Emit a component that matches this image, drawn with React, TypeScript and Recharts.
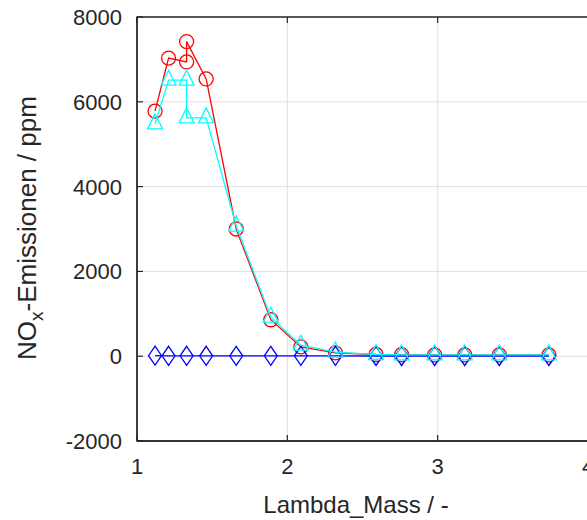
import React from "react";
import {
  ScatterChart,
  Scatter,
  XAxis,
  YAxis,
  CartesianGrid,
  ReferenceArea,
} from "recharts";

// values
const lambdaRed = [1.12, 1.21, 1.33, 1.33, 1.46, 1.66, 1.89, 2.09, 2.32, 2.59, 2.76, 2.98, 3.18, 3.41, 3.74];
const noxRed = [5780, 7030, 6940, 7420, 6540, 3000, 860, 220, 80, 40, 35, 30, 30, 30, 30];

const lambdaCyan = [1.12, 1.21, 1.33, 1.33, 1.46, 1.66, 1.89, 2.09, 2.32, 2.59, 2.76, 2.98, 3.18, 3.41, 3.74];
const noxCyan = [5480, 6510, 6510, 5620, 5620, 3070, 920, 260, 95, 40, 30, 30, 30, 30, 30];

const lambdaBlue = [1.12, 1.21, 1.33, 1.46, 1.66, 1.89, 2.09, 2.32, 2.59, 2.76, 2.98, 3.18, 3.41, 3.74];
const noxBlue = [12, 10, 10, 10, 8, 8, 8, 8, 5, 5, 5, 5, 5, 5];

const xTicks = [1, 2, 3, 4];
const yTicks = [-2000, 0, 2000, 4000, 6000, 8000];

const toPoints = (xs: number[], ys: number[]) => xs.map((x, i) => ({ x, y: ys[i] }));

// chart is pinned to the page's top-left corner, so these are page pixels
const W = 600;
const H = 520;
const M = { top: 17, right: 12, left: 0, bottom: 0 };
const Y_W = 137;
const X_H = 79;
const PLOT_LEFT = M.left + Y_W;
const PLOT_TOP = M.top;
const PLOT_BOTTOM = H - M.bottom - X_H;
const AXIS = "#262626";
const FONT = "'Liberation Sans', Arial, sans-serif";

const XTick = (props: any) => {
  const { x, payload } = props;
  return (
    <g>
      <line x1={x} x2={x} y1={PLOT_BOTTOM} y2={PLOT_BOTTOM - 6} stroke={AXIS} strokeWidth={1.2} />
      <line x1={x} x2={x} y1={PLOT_TOP} y2={PLOT_TOP + 6} stroke={AXIS} strokeWidth={1.2} />
      <text x={x} y={PLOT_BOTTOM + 33} textAnchor="middle" fontSize={22} fill={AXIS} fontFamily={FONT}>
        {payload.value}
      </text>
    </g>
  );
};

const YTick = (props: any) => {
  const { y, payload } = props;
  return (
    <g>
      <line x1={PLOT_LEFT} x2={PLOT_LEFT + 6} y1={y} y2={y} stroke={AXIS} strokeWidth={1.2} />
      <text x={PLOT_LEFT - 15} y={y + 8} textAnchor="end" fontSize={22} fill={AXIS} fontFamily={FONT}>
        {payload.value}
      </text>
    </g>
  );
};

const XLabel = () => (
  <text x={356} y={513} textAnchor="middle" fontSize={24} fill={AXIS} fontFamily={FONT}>
    Lambda_Mass / -
  </text>
);

const YLabel = () => (
  <text
    transform="translate(36, 228) rotate(-90)"
    textAnchor="middle"
    fontSize={26}
    fill={AXIS}
    fontFamily={FONT}
  >
    NO
    <tspan dy={7} fontSize={19}>x</tspan>
    <tspan dy={-7}>-Emissionen / ppm</tspan>
  </text>
);

const circle = (props: any) => (
  <circle cx={props.cx} cy={props.cy} r={7} fill="none" stroke="#ff0000" strokeWidth={1.3} />
);

const triangle = (props: any) => {
  const { cx, cy } = props;
  return (
    <polygon
      points={`${cx},${cy - 10} ${cx - 7.5},${cy + 5} ${cx + 7.5},${cy + 5}`}
      fill="none"
      stroke="#00ffff"
      strokeWidth={1.3}
    />
  );
};

const diamond = (props: any) => {
  const { cx, cy } = props;
  return (
    <polygon
      points={`${cx},${cy - 9.5} ${cx + 6.5},${cy} ${cx},${cy + 9.5} ${cx - 6.5},${cy}`}
      fill="none"
      stroke="#0000ff"
      strokeWidth={1.3}
    />
  );
};

export default function App() {
  return (
    <div
      style={{
        position: "absolute",
        left: 0,
        top: 0,
        width: 587,
        height: 520,
        overflow: "hidden",
        background: "#fff",
      }}
    >
      <ScatterChart width={W} height={H} margin={M}>
        <CartesianGrid stroke="#e0e0e0" strokeWidth={1} />
        <XAxis
          dataKey="x"
          type="number"
          domain={[1, 4]}
          ticks={xTicks}
          height={X_H}
          axisLine={{ stroke: AXIS, strokeWidth: 1.3 }}
          tickLine={false}
          tick={<XTick />}
          label={<XLabel />}
          allowDataOverflow
        />
        <YAxis
          dataKey="y"
          type="number"
          domain={[-2000, 8000]}
          ticks={yTicks}
          width={Y_W}
          axisLine={{ stroke: AXIS, strokeWidth: 1.3 }}
          tickLine={false}
          tick={<YTick />}
          label={<YLabel />}
          allowDataOverflow
        />
        <ReferenceArea x1={1} x2={4} y1={-2000} y2={8000} fill="none" stroke={AXIS} strokeWidth={1.3} />
        <Scatter
          data={toPoints(lambdaRed, noxRed)}
          line={{ stroke: "#ff0000", strokeWidth: 1.3 }}
          shape={circle}
          isAnimationActive={false}
        />
        <Scatter
          data={toPoints(lambdaBlue, noxBlue)}
          line={{ stroke: "#0000ff", strokeWidth: 1.3 }}
          shape={diamond}
          isAnimationActive={false}
        />
        <Scatter
          data={toPoints(lambdaCyan, noxCyan)}
          line={{ stroke: "#00ffff", strokeWidth: 1.3 }}
          shape={triangle}
          isAnimationActive={false}
        />
      </ScatterChart>
    </div>
  );
}
